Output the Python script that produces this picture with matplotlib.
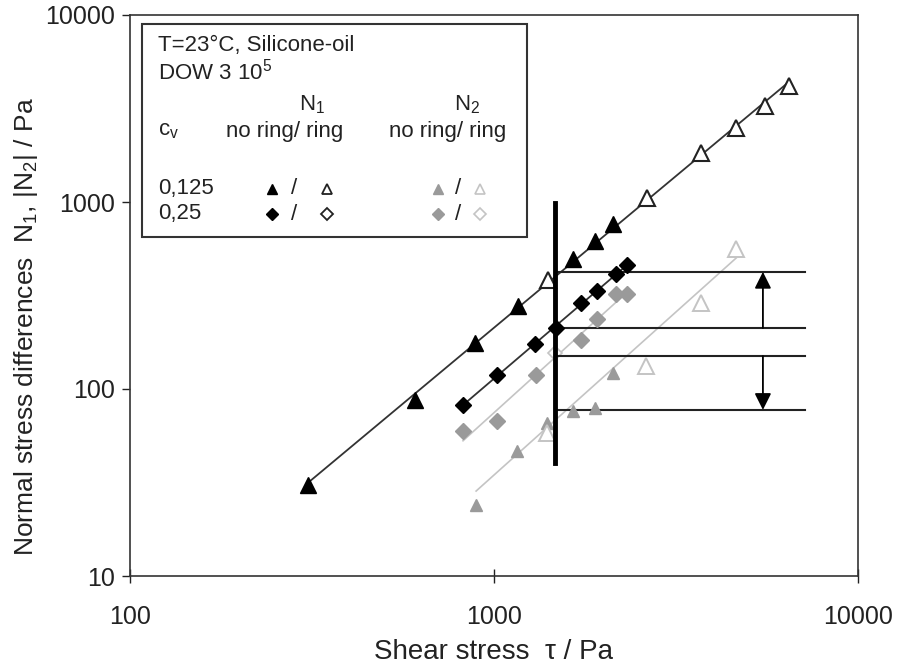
import numpy as np
import matplotlib.pyplot as plt

plt.rcParams['font.family'] = ['Liberation Sans', 'DejaVu Sans']

# N1, c_v = 0.125
n1_tri_x = [308, 607, 887, 1164, 1648, 1892, 2123]
n1_tri_y = [30.7, 87, 176, 278, 495, 618, 762]
n1_tri_ring_x = [1406, 2630, 3704, 4627, 5556, 6457]
n1_tri_ring_y = [383, 1050, 1827, 2488, 3260, 4170]
# N1, c_v = 0.25
n1_dia_x = [822, 1019, 1297, 1481, 1733, 1918, 2163, 2319]
n1_dia_y = [82, 119, 174, 212, 289, 334, 412, 460]
# N2, c_v = 0.125
n2_tri_x = [893, 1156, 1399, 1648, 1892, 2123]
n2_tri_y = [24, 46.6, 65.8, 76.2, 79, 122]
n2_tri_ring_x = [1399, 2616, 3704, 4627]
n2_tri_ring_y = [58.2, 133, 289, 561]
# N2, c_v = 0.25
n2_dia_x = [822, 1019, 1303, 1733, 1918, 2163, 2319]
n2_dia_y = [59.6, 67.4, 119, 183, 237, 322, 322]
n2_dia_ring_x = [1473]
n2_dia_ring_y = [156]

# annotation: critical stress line and level lines
tau_crit = 1473
tau_crit_range = [40, 988]
levels = [423, 212, 150, 77.3]
level_end = 7150
arrow_x = 5480

black = '#000000'
gray = '#9a9a9a'
light = '#c4c4c4'


def fitline(ax, xs, ys, color, lw, shift=1.0):
    lx = np.log10(xs)
    ly = np.log10(ys)
    k, d = np.polyfit(lx, ly, 1)
    xx = np.array([lx.min(), lx.max()])
    ax.plot(10 ** xx, shift * 10 ** (k * xx + d), color=color, lw=lw, zorder=2)


fig = plt.figure(figsize=(9.04, 6.69), dpi=100)
ax = fig.add_axes([130 / 904, 1 - 576 / 669, 728 / 904, 561 / 669])
ax.set_xscale('log')
ax.set_yscale('log')
ax.set_xlim(100, 10000)
ax.set_ylim(10, 10000)

fitline(ax, n1_tri_x + n1_tri_ring_x, n1_tri_y + n1_tri_ring_y, '#333333', 1.3)
fitline(ax, n1_dia_x, n1_dia_y, '#333333', 1.3)
fitline(ax, n2_tri_x + n2_tri_ring_x, n2_tri_y + n2_tri_ring_y, light, 1.2, shift=1.1)
fitline(ax, n2_dia_x, n2_dia_y, light, 1.2)

ax.plot(n1_tri_x, n1_tri_y, '^', color=black, ms=11, ls='none', zorder=4)
ax.plot(n1_tri_ring_x, n1_tri_ring_y, '^', mfc='white', mec='#222222', mew=1.5, ms=12, ls='none', zorder=4)
ax.plot(n1_dia_x, n1_dia_y, 'D', color=black, ms=8.5, ls='none', zorder=4)
ax.plot(n2_tri_x, n2_tri_y, '^', color=gray, ms=9, ls='none', zorder=4)
ax.plot(n2_tri_ring_x, n2_tri_ring_y, '^', mfc='white', mec=light, mew=1.4, ms=12, ls='none', zorder=4)
ax.plot(n2_dia_x, n2_dia_y, 'D', color=gray, ms=8.5, ls='none', zorder=4)
ax.plot(n2_dia_ring_x, n2_dia_ring_y, 'D', mfc='white', mec=light, mew=1.2, ms=7, ls='none', zorder=3)

ax.plot([tau_crit, tau_crit], tau_crit_range, color=black, lw=3.5, zorder=5)
for lv in levels:
    ax.plot([tau_crit, level_end], [lv, lv], color='#222222', lw=1.5, zorder=3)
ax.annotate('', xy=(arrow_x, levels[0]), xytext=(arrow_x, levels[1]),
            arrowprops=dict(arrowstyle='-|>', color=black, lw=1.3, mutation_scale=25,
                            shrinkA=0, shrinkB=0))
ax.annotate('', xy=(arrow_x, levels[3]), xytext=(arrow_x, levels[2]),
            arrowprops=dict(arrowstyle='-|>', color=black, lw=1.3, mutation_scale=25,
                            shrinkA=0, shrinkB=0))

ax.set_xticks([100, 1000, 10000])
ax.set_xticklabels(['100', '1000', '10000'])
ax.set_yticks([10, 100, 1000, 10000])
ax.set_yticklabels(['10', '100', '1000', '10000'])
ax.minorticks_off()
ax.tick_params(axis='x', direction='inout', length=10, width=1, labelsize=18, pad=16, colors='#222222')
ax.tick_params(axis='y', direction='out', length=6, width=1, labelsize=18, pad=5, colors='#222222')
for s in ax.spines.values():
    s.set_linewidth(1.2)
    s.set_color('#333333')

ax.set_xlabel('Shear stress  \u03c4 / Pa', fontsize=20, labelpad=7, color='#222222')
ax.set_ylabel('Normal stress differences  N$\\mathregular{_1}$, |N$\\mathregular{_2}$| / Pa',
              fontsize=19, color='#222222')
ax.yaxis.set_label_coords(-0.123, 0.445)

# legend box
box = plt.Rectangle((142 / 904, 1 - 237 / 669), 385 / 904, 213 / 669, transform=fig.transFigure,
                    fill=True, facecolor='white', edgecolor='#333333', lw=1.5, zorder=6)
fig.add_artist(box)


def ftext(px, py, s, **kw):
    fig.text(px / 904, 1 - py / 669, s, fontsize=16, color='#222222', va='center', zorder=7, **kw)


ftext(158, 45, 'T=23\u00b0C, Silicone-oil')
ftext(158, 72, 'DOW 3 10$\\mathregular{^5}$')
ftext(312, 105, 'N$\\mathregular{_1}$', ha='center')
ftext(467, 105, 'N$\\mathregular{_2}$', ha='center')
ftext(158, 131, 'c$\\mathregular{_v}$')
ftext(285, 131, 'no ring/ ring', ha='center')
ftext(448, 131, 'no ring/ ring', ha='center')
ftext(158, 189, '0,125')
ftext(158, 214, '0,25')
for py in (189, 214):
    ftext(294, py, '/', ha='center')
    ftext(458, py, '/', ha='center')


def fmark(px, py, m, **kw):
    fig.add_artist(plt.Line2D([px / 904], [1 - py / 669], marker=m, ls='none',
                              transform=fig.transFigure, zorder=7, **kw))


fmark(272, 189, '^', color=black, ms=7)
fmark(327, 189, '^', mfc='white', mec='#222222', mew=1.3, ms=7)
fmark(438, 189, '^', color=gray, ms=7)
fmark(480, 189, '^', mfc='white', mec=light, mew=1.2, ms=7)
fmark(272, 214, 'D', color=black, ms=6)
fmark(327, 214, 'D', mfc='white', mec='#222222', mew=1.3, ms=6)
fmark(438, 214, 'D', color=gray, ms=6)
fmark(480, 214, 'D', mfc='white', mec=light, mew=1.2, ms=6)

fig.savefig('out.png', dpi=100)
